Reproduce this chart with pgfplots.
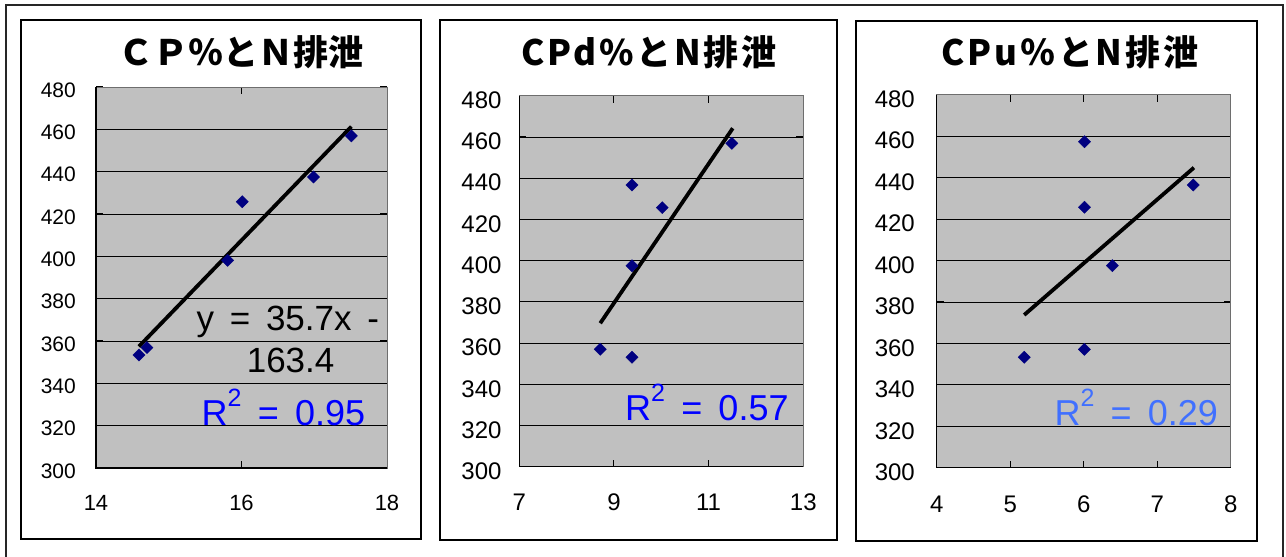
\documentclass[border=0pt]{standalone}
\usepackage{fontspec}
\setmainfont{Liberation Sans}
\newfontfamily\cjk{Noto Sans CJK JP}
\newfontfamily\cjkls{Noto Sans CJK JP}[LetterSpace=8]
\usepackage{pgfplots}
\pgfplotsset{compat=1.18}
\definecolor{plotgray}{RGB}{192,192,192}
\definecolor{navymark}{RGB}{0,0,128}
\definecolor{rblue}{RGB}{0,0,255}
\definecolor{rlblue}{RGB}{64,112,255}
\definecolor{framegray}{RGB}{110,110,110}
\newcommand{\sq}{\raisebox{19pt}{\fontsize{25}{25}\selectfont 2}}

\pgfplotsset{
  panel/.style={
    scale only axis,
    anchor=south west,
    ymin=300, ymax=480, ytick={300,320,...,480},
    axis background/.style={fill=plotgray},
    axis line style={draw=framegray, line width=0.8pt},
    ymajorgrids, major grid style={black, line width=0.8pt},
    tick align=inside, major tick length=7pt,
    tick style={black, line width=1pt},
    /pgf/number format/assume math mode=true,
    clip=false,
  },
  datamark/.style={only marks, mark=square*, mark size=4.3pt,
    mark options={rotate=45, fill=navymark, draw=navymark}},
  trend/.style={no marks, black, line width=3.8pt},
}

\begin{document}
\begin{tikzpicture}[x=1pt,y=1pt]
\useasboundingbox (0,0) rectangle (1286,557);
% outer frame
\draw[line width=1.2pt, black!85] (6,-2) -- (6,552) -- (1283,552) -- (1283,-2);
% panel boxes
\draw[line width=1.2pt, fill=white] (21,18) rectangle (421,537);
\draw[line width=1.2pt, fill=white] (440,17) rectangle (837,537);
\draw[line width=1.2pt, fill=white] (856,16) rectangle (1257,536);
% titles
\node[font=\cjk\bfseries\fontsize{35}{35}\selectfont] at (241,505) {ＣＰ％とＮ排泄};
\node[font=\cjkls\bfseries\fontsize{35}{35}\selectfont] at (649,505) {CPd\%とN排泄};
\node[font=\cjkls\bfseries\fontsize{35}{35}\selectfont] at (1070,505) {CPu％とN排泄};

% ---------- panel 1 ----------
\begin{axis}[panel, at={(96pt,89pt)}, width=291pt, height=381pt,
  xmin=14, xmax=18, xtick={14,16,18},
  yticklabel style={anchor=east, inner sep=0pt, xshift=-20pt, yshift=-3pt,
    font=\fontsize{21}{21}\selectfont},
  xticklabel style={anchor=center, inner sep=0pt, yshift=-35pt,
    font=\fontsize{22}{22}\selectfont}]
\addplot[trend] coordinates {(14.59,357.4) (17.51,461.3)};
\addplot[datamark] coordinates {(14.59,353.4) (14.70,356.9) (15.81,398.1) (16.01,425.8) (16.99,437.5) (17.51,456.9)};
\draw[black, line width=1.3pt] (rel axis cs:0,1) -- (rel axis cs:0,0) -- (rel axis cs:1,0);
\node[anchor=base west, inner sep=0pt, font=\fontsize{35}{35}\selectfont] at (axis cs:15.38,364.9) {y\hspace{0.45em}=\hspace{0.45em}35.7x\hspace{0.45em}-};
\node[anchor=base west, inner sep=0pt, font=\fontsize{35}{35}\selectfont] at (axis cs:16.07,345.0) {163.4};
\node[anchor=base west, inner sep=0pt, text=rblue, font=\fontsize{36}{36}\selectfont] at (axis cs:15.45,320.3) {R\sq\hspace{0.45em}=\hspace{0.45em}0.95};
\end{axis}

% ---------- panel 2 ----------
\begin{axis}[panel, at={(519.3pt,90.3pt)}, width=284pt, height=371pt,
  xmin=7, xmax=13, xtick={7,9,11,13},
  yticklabel style={anchor=east, inner sep=0pt, xshift=-17.6pt, yshift=-4.5pt,
    font=\fontsize{24}{24}\selectfont},
  xticklabel style={anchor=center, inner sep=0pt, yshift=-36pt,
    font=\fontsize{24}{24}\selectfont}]
\addplot[trend] coordinates {(8.71,369.6) (11.51,464.2)};
\addplot[datamark] coordinates {(8.71,357.0) (9.38,436.7) (9.38,397.5) (9.38,353.1) (10.02,425.7) (11.49,456.9)};
\draw[black, line width=1.3pt] (rel axis cs:0,1) -- (rel axis cs:0,0) -- (rel axis cs:1,0);
\node[anchor=base west, inner sep=0pt, text=rblue, font=\fontsize{36}{36}\selectfont] at (axis cs:9.233,322.6) {R\sq\hspace{0.45em}=\hspace{0.45em}0.57};
\end{axis}

% ---------- panel 3 ----------
\begin{axis}[panel, at={(936.7pt,89.3pt)}, width=294pt, height=373pt,
  xmin=4, xmax=8, xtick={4,5,6,7,8},
  yticklabel style={anchor=east, inner sep=0pt, xshift=-21.7pt, yshift=-4.5pt,
    font=\fontsize{24}{24}\selectfont},
  xticklabel style={anchor=center, inner sep=0pt, yshift=-37pt,
    font=\fontsize{24}{24}\selectfont}]
\addplot[trend] coordinates {(5.19,373.7) (7.50,444.8)};
\addplot[datamark] coordinates {(5.19,353.3) (6.01,357.1) (6.01,425.7) (6.01,457.3) (6.39,397.5) (7.49,436.4)};
\draw[black, line width=1.3pt] (rel axis cs:0,1) -- (rel axis cs:0,0) -- (rel axis cs:1,0);
\node[anchor=base west, inner sep=0pt, text=rlblue, font=\fontsize{36}{36}\selectfont] at (axis cs:5.60,320.6) {R\sq\hspace{0.45em}=\hspace{0.45em}0.29};
\end{axis}
\end{tikzpicture}
\end{document}
